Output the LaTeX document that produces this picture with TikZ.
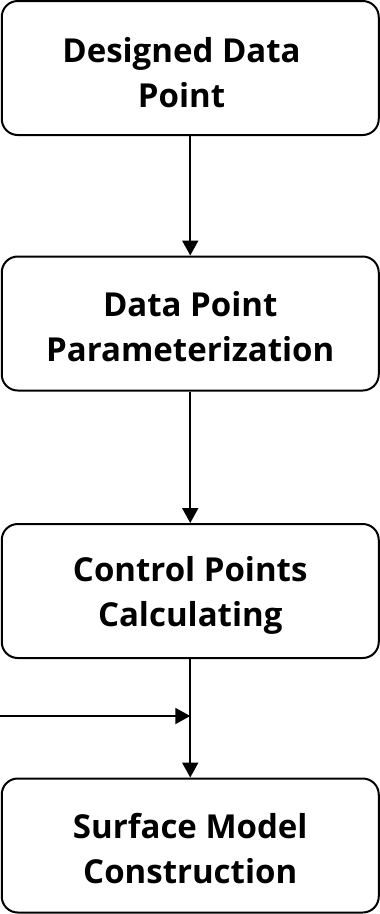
\documentclass[tikz,border=0pt]{standalone}
\usepackage{fontspec}
\setmainfont{Open Sans}
\usetikzlibrary{arrows.meta}
\begin{document}
\begin{tikzpicture}[x=1pt,y=-1pt,
  stepbox/.style={draw=black,line width=2pt,rounded corners=16pt,minimum width=377pt,minimum height=134pt,inner sep=0pt},
  steptext/.style={font=\fontsize{33}{45}\selectfont\bfseries,align=center,inner sep=0pt},
  flow/.style={line width=2pt,-{Triangle[length=15pt,width=16pt]}}]
\useasboundingbox (0,0) rectangle (380,914);
\node[stepbox] (a) at (190.25,68) {};
\node[stepbox] (b) at (190.25,323.5) {};
\node[stepbox] (c) at (190.25,591) {};
\node[stepbox] (d) at (190.25,845.5) {};
\node[steptext] (at) at (181.5,73) {Designed Data\\Point};
\node[steptext] (bt) at (190.25,327) {Data Point\\Parameterization};
\node[steptext] (ct) at (190.25,595) {Control Points\\Calculating};
\node[steptext] (dt) at (190.25,849) {Surface Model\\Construction};
\coordinate (j) at (190.25,716);
\coordinate (l) at (0,716);
\draw[flow] (a) -- (b);
\draw[flow] (b) -- (c);
\draw[flow] (c) -- (d);
\draw[flow] (l) -- (j);
\end{tikzpicture}
\end{document}
